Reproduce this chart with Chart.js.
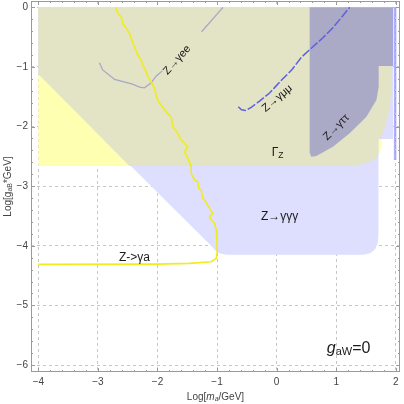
<!DOCTYPE html>
<html>
<head>
<meta charset="utf-8">
<script src="https://cdn.jsdelivr.net/npm/chart.js@4.4.1/dist/chart.umd.min.js"></script>
<style>
  html, body { margin: 0; padding: 0; background: #fff; }
  canvas { display: block; }
</style>
</head>
<body>
<canvas id="chart" width="404" height="404"></canvas>
<script>
const xTicks = [-4, -3, -2, -1, 0, 1, 2];
const yTicks = [0, -1, -2, -3, -4, -5, -6];
const xRange = [-4.124, 2.072];
const yRange = [-6.117, 0.106];
const minorStep = 0.2;

// Z -> gamma a limit (yellow curve)
const gaX = [-2.706, -2.667, -2.610, -2.583, -2.526, -2.471, -2.442, -2.387, -2.331, -2.274, -2.247, -2.190,
  -2.163, -2.106, -2.050, -2.022, -1.995, -1.966, -1.854, -1.770, -1.743, -1.659, -1.602, -1.491, -1.546,
  -1.518, -1.462, -1.434, -1.434, -1.378, -1.323, -1.306, -1.266, -1.239, -1.210, -1.126, -1.071, -1.126,
  -1.097, -1.042, -1.013, -1.003, -0.997, -1.013, -1.097, -1.462, -2.022, -4.005];
const gaY = [0.0, -0.101, -0.158, -0.268, -0.352, -0.436, -0.520, -0.661, -0.800, -0.884, -0.968, -1.081,
  -1.164, -1.248, -1.359, -1.471, -1.555, -1.606, -1.752, -1.841, -2.003, -2.114, -2.227, -2.339, -2.423,
  -2.478, -2.591, -2.674, -2.785, -2.898, -2.926, -3.037, -3.065, -3.205, -3.233, -3.372, -3.456, -3.513,
  -3.569, -3.624, -3.737, -3.904, -4.101, -4.211, -4.268, -4.295, -4.307, -4.312];

// Z -> gamma e e (gray curve, broken by its label)
const eeX = [-2.975, -2.92, -2.72, -2.42, -2.30, -2.22, -2.11, -2.02, -1.92, -1.60, -1.26, -0.90];
const eeY = [-0.93, -1.05, -1.21, -1.29, -1.34, -1.35, -1.27, -1.15, -1.07, null, -0.41, 0.0];

// Z -> gamma mu mu (blue dashed curve)
const mmX = [-0.644, -0.588, -0.521, -0.420, -0.286, -0.118, 0.084, 0.252, 0.420, 0.605, 0.773, 0.941, 1.109, 1.227];
const mmY = [-1.668, -1.718, -1.732, -1.673, -1.572, -1.438, -1.220, -1.052, -0.834, -0.666, -0.515, -0.347, -0.146, 0.0];

// excluded regions
const yelX = [-4, 1.93, 1.93, 1.90, 1.86, 1.82, 1.77, 1.76, 1.72, 1.62, 1.40, 1.20, -4, -4];
const yelY = [0, 0, -1.4, -1.7, -1.85, -2.02, -2.2, -2.35, -2.47, -2.57, -2.64, -2.66, -2.66, 0];

const lavX = [-4, -4, -1.07, -1.02, -0.95, -0.85, 1.46, 1.58, 1.66, 1.70, 1.71, 1.71, 1.955, 1.955, -4];
const lavY = [0, -1.12, -4.03, -4.09, -4.13, -4.15, -4.15, -4.12, -4.05, -3.94, -3.80, -2.21, -2.21, 0, 0];

const khaX = [-4, 1.93, 1.93, 1.90, 1.86, 1.82, 1.75, 1.71, 1.71, 1.62, 1.40, 1.20, -2.47, -4, -4];
const khaY = [0, 0, -1.4, -1.7, -1.85, -2.02, -2.18, -2.22, -2.48, -2.57, -2.64, -2.66, -2.66, -1.12, 0];

const tauX = [0.555, 1.96, 1.96, 1.714, 1.714, 1.676, 1.508, 1.227, 0.946, 0.667, 0.583, 0.555, 0.555];
const tauY = [0, 0, -0.985, -0.985, -1.332, -1.555, -1.836, -2.114, -2.339, -2.495, -2.507, -2.44, 0];

const stripX = [1.99, 1.99];
const stripY = [0, -2.56];

const plotLabels = [
  { x: -1.672, y: -0.884, angle: -48, parts: [{ t: 'Z→γee', size: 11 }] },
  { x: 0.01, y: -1.527, angle: -40, parts: [{ t: 'Z→γμμ', size: 11 }] },
  { x: 1.003, y: -2.013, angle: -45, parts: [{ t: 'Z→γττ', size: 11 }] },
  { x: 0.017, y: -2.445, angle: 0, parts: [{ t: 'Γ', size: 12 }, { t: 'Z', size: 8.5, dy: 3 }] },
  { x: 0.05, y: -3.518, angle: 0, parts: [{ t: 'Z→γγγ', size: 12 }] },
  { x: -2.387, y: -4.206, angle: 0, parts: [{ t: 'Z->γa', size: 12 }] },
  { x: 1.21, y: -5.73, angle: 0, parts: [{ t: 'g', size: 16, italic: true }, { t: 'aW', size: 11, dy: 3 }, { t: '=0', size: 16 }] }
];

const fontFamily = '"Liberation Sans", Arial, sans-serif';
const zip = (xs, ys) => xs.map((x, i) => ({ x, y: ys[i] }));

function region(data, color, order) {
  return {
    data,
    showLine: true,
    pointRadius: 0,
    borderWidth: 0,
    borderColor: 'rgba(0,0,0,0)',
    backgroundColor: color,
    fill: 'shape',
    tension: 0,
    order
  };
}

function curve(data, color, width, order, dash) {
  return {
    data,
    showLine: true,
    pointRadius: 0,
    borderWidth: width,
    borderColor: color,
    borderDash: dash || [],
    fill: false,
    tension: 0,
    spanGaps: false,
    order
  };
}

function drawRich(ctx, parts, x, y) {
  const fontOf = (p) => `${p.italic ? 'italic ' : ''}${p.size}px ${fontFamily}`;
  let total = 0;
  parts.forEach((p) => {
    ctx.font = fontOf(p);
    p.w = ctx.measureText(p.t).width;
    total += p.w;
  });
  let cx = x - total / 2;
  ctx.textAlign = 'left';
  ctx.textBaseline = 'middle';
  parts.forEach((p) => {
    ctx.font = fontOf(p);
    ctx.fillText(p.t, cx, y + (p.dy || 0));
    cx += p.w;
  });
}

const decorPlugin = {
  id: 'decor',
  afterDraw(chart) {
    const { ctx, chartArea: a, scales: { x, y } } = chart;
    ctx.save();
    ctx.strokeStyle = '#9a9a9a';
    ctx.lineWidth = 1;
    ctx.strokeRect(a.left + 0.5, a.top + 0.5, a.right - a.left - 1, a.bottom - a.top - 1);

    const tickLen = (v) => (Math.abs(v - Math.round(v)) < 1e-6 ? 4 : 2);
    ctx.beginPath();
    for (let v = Math.ceil(xRange[0] / minorStep) * minorStep; v <= xRange[1]; v += minorStep) {
      const px = Math.round(x.getPixelForValue(v)) + 0.5;
      const l = tickLen(v);
      ctx.moveTo(px, a.bottom); ctx.lineTo(px, a.bottom - l);
      ctx.moveTo(px, a.top); ctx.lineTo(px, a.top + l);
    }
    for (let v = Math.ceil(yRange[0] / minorStep) * minorStep; v <= yRange[1]; v += minorStep) {
      const py = Math.round(y.getPixelForValue(v)) + 0.5;
      const l = tickLen(v);
      ctx.moveTo(a.left, py); ctx.lineTo(a.left + l, py);
      ctx.moveTo(a.right, py); ctx.lineTo(a.right - l, py);
    }
    ctx.stroke();

    ctx.fillStyle = '#1a1a1a';
    plotLabels.forEach((lab) => {
      ctx.save();
      ctx.translate(x.getPixelForValue(lab.x), y.getPixelForValue(lab.y));
      ctx.rotate(lab.angle * Math.PI / 180);
      drawRich(ctx, lab.parts.map((p) => ({ ...p })), 0, 0);
      ctx.restore();
    });

    ctx.fillStyle = '#444';
    drawRich(ctx, [
      { t: 'Log[', size: 10 }, { t: 'm', size: 10, italic: true },
      { t: 'a', size: 7, dy: 2, italic: true }, { t: '/GeV]', size: 10 }
    ], (a.left + a.right) / 2, 397);
    ctx.save();
    ctx.translate(8, (a.top + a.bottom) / 2);
    ctx.rotate(-Math.PI / 2);
    drawRich(ctx, [
      { t: 'Log[', size: 10 }, { t: 'g', size: 10 },
      { t: 'aB', size: 7, dy: 2 }, { t: '*GeV]', size: 10 }
    ], 0, 0);
    ctx.restore();
    ctx.restore();
  }
};

const minus = (v) => (v < 0 ? '−' + Math.abs(v) : String(v));

new Chart(document.getElementById('chart'), {
  type: 'scatter',
  data: {
    datasets: [
      region(zip(yelX, yelY), 'rgb(255,255,178)', 10),
      region(zip(lavX, lavY), 'rgb(222,222,255)', 9),
      region(zip(khaX, khaY), 'rgb(227,227,197)', 8),
      region(zip(tauX, tauY), 'rgba(90,90,200,0.42)', 7),
      curve(zip(stripX, stripY), 'rgba(150,150,250,0.75)', 2.5, 6),
      curve(zip(eeX, eeY), 'rgb(168,168,200)', 1.3, 4),
      curve(zip(mmX, mmY), 'rgb(95,95,225)', 1.5, 3, [9, 2]),
      curve(zip(gaX, gaY), 'rgb(240,236,30)', 1.6, 2)
    ]
  },
  options: {
    responsive: false,
    animation: false,
    events: [],
    layout: { padding: { top: 1, right: 4, left: 0, bottom: 0 } },
    plugins: { legend: { display: false }, tooltip: { enabled: false } },
    scales: {
      x: {
        type: 'linear',
        min: xRange[0],
        max: xRange[1],
        z: 1,
        afterBuildTicks: (s) => { s.ticks = xTicks.map((v) => ({ value: v })); },
        afterFit: (s) => { s.height = 32; s.paddingLeft = 0; s.paddingRight = 0; },
        ticks: {
          autoSkip: false, maxRotation: 0, padding: 4, color: '#444',
          font: { size: 10, family: fontFamily },
          callback: minus
        },
        grid: { color: 'rgba(175,175,175,0.7)', drawTicks: false, lineWidth: 1 },
        border: { display: false, dash: [3, 3] }
      },
      y: {
        type: 'linear',
        min: yRange[0],
        max: yRange[1],
        z: 1,
        afterBuildTicks: (s) => { s.ticks = yTicks.map((v) => ({ value: v })); },
        afterFit: (s) => { s.width = 31; s.paddingTop = 0; s.paddingBottom = 0; },
        ticks: {
          autoSkip: false, padding: 3, color: '#444',
          font: { size: 10, family: fontFamily },
          callback: minus
        },
        grid: { color: 'rgba(175,175,175,0.7)', drawTicks: false, lineWidth: 1 },
        border: { display: false, dash: [3, 3] }
      }
    }
  },
  plugins: [decorPlugin]
});
</script>
</body>
</html>
